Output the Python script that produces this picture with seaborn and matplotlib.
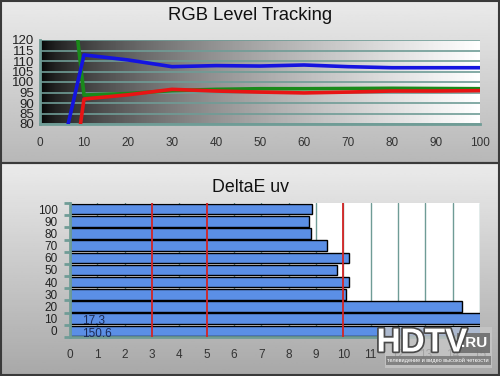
import numpy as np
import pandas as pd
import seaborn as sns
import matplotlib.pyplot as plt
import matplotlib.patheffects as pe
from matplotlib.patches import Rectangle

# RGB level tracking (levels in %)
levels = [0, 10, 20, 30, 40, 50, 60, 70, 80, 90, 100]
red = [-57, 91.9, 93.9, 96.5, 95.7, 95.2, 94.8, 95.2, 95.7, 95.7, 95.9]
green = [280, 93.8, 94.5, 95.9, 96.5, 96.8, 96.8, 96.9, 97.0, 96.9, 96.8]
blue = [21.5, 112.9, 110.5, 107.3, 107.8, 107.6, 108.1, 107.3, 106.8, 106.8, 106.8]

# DeltaE uv per level
de_levels = ['100', '90', '80', '70', '60', '50', '40', '30', '20', '10', '0']
de_values = [8.85, 8.75, 8.8, 9.4, 10.2, 9.75, 10.2, 10.1, 14.35, 17.3, 150.6]
ref_lines = [3, 5, 10]

sns.set_theme(style='white')
plt.rcParams['font.family'] = ['Liberation Sans', 'DejaVu Sans']

teal = '#6f9c96'
W, H = 500, 376

fig = plt.figure(figsize=(5, 3.76), dpi=100)

# panel backgrounds
bg = fig.add_axes([0, 0, 1, 1])
bg.axis('off')
grad_top = np.linspace(0.92, 0.72, 100).reshape(-1, 1)
grad_bot = np.linspace(0.92, 0.66, 100).reshape(-1, 1)
bg.imshow(grad_top, cmap='gray', vmin=0, vmax=1, aspect='auto', extent=(0, W, 163, 0))
bg.imshow(grad_bot, cmap='gray', vmin=0, vmax=1, aspect='auto', extent=(0, W, H, 163))
bg.add_patch(Rectangle((0.8, 0.8), W - 1.6, 162, fill=False, ec='#3a3a3a', lw=1.5))
bg.add_patch(Rectangle((0.8, 163), W - 1.6, H - 163.8, fill=False, ec='#3a3a3a', lw=1.5))
bg.set_xlim(0, W)
bg.set_ylim(H, 0)

fig.text(0.5, 1 - 15 / H, 'RGB Level Tracking', ha='center', va='center', fontsize=13.3, color='#111111')
fig.text(0.5, 1 - 187 / H, 'DeltaE uv', ha='center', va='center', fontsize=12.8, color='#111111')

# top chart
ax1 = fig.add_axes([40 / W, 1 - 124 / H, 440 / W, 84 / H])
ax1.set_facecolor('none')
xg = np.linspace(0, 1, 256) ** 0.6
ax1.imshow(xg.reshape(1, -1), cmap='gray', vmin=0, vmax=1, aspect='auto',
           extent=(0, 100, 80, 120), zorder=0)

df = pd.DataFrame({
    'level': levels * 3,
    'value': green + red + blue,
    'channel': ['G'] * len(levels) + ['R'] * len(levels) + ['B'] * len(levels),
})
sns.lineplot(data=df, x='level', y='value', hue='channel',
             palette={'R': '#e81414', 'G': '#1a8a1a', 'B': '#1414e0'},
             linewidth=2.6, legend=False, ax=ax1, zorder=3)
ax1.set_xlim(0, 100)
ax1.set_ylim(80, 120)
ax1.set_xticks(range(0, 101, 10))
ax1.set_yticks(range(80, 121, 5))
ax1.grid(axis='y', color=teal, lw=1.2, zorder=1)
ax1.grid(axis='x', visible=False)
ax1.set_xlabel('')
ax1.set_ylabel('')
for s in ['top', 'right']:
    ax1.spines[s].set_visible(False)
for s in ['left', 'bottom']:
    ax1.spines[s].set_color(teal)
    ax1.spines[s].set_linewidth(2)
ax1.tick_params(axis='x', direction='inout', length=7, width=2, color=teal,
                labelsize=8.5, labelcolor='#333333', pad=6)
ax1.tick_params(axis='y', direction='inout', length=6, width=2, color=teal,
                labelsize=9.5, labelcolor='#222222', pad=1)

# bottom chart
ax2 = fig.add_axes([70 / W, 1 - 337 / H, 410 / W, 134 / H])
ax2.set_facecolor('white')
df2 = pd.DataFrame({'level': de_levels, 'de': de_values})
sns.barplot(data=df2, x='de', y='level', order=de_levels, color='#5b8fe6',
            saturation=1, edgecolor='black', linewidth=1, width=0.86, ax=ax2, zorder=2)
ax2.set_xlim(0, 15)
ax2.set_ylim(10.5, -0.5)
ax2.set_xticks(range(0, 16))
ax2.grid(axis='x', color=teal, lw=1, zorder=0)
ax2.grid(axis='y', visible=False)
ax2.set_axisbelow(True)
for x in ref_lines:
    ax2.axvline(x, color='#d42424', lw=1.3, zorder=4)
for i, v in enumerate(de_values):
    if v > 15:
        ax2.text(0.45, i + 0.22, f'{v}', ha='left', va='center', fontsize=8.5,
                 color='#1c2a55', zorder=5)
ax2.set_xlabel('')
ax2.set_ylabel('')
for s in ['top', 'right']:
    ax2.spines[s].set_visible(False)
for s in ['left', 'bottom']:
    ax2.spines[s].set_color(teal)
    ax2.spines[s].set_linewidth(2)
ax2.set_yticks(np.arange(-0.5, 11, 1), minor=True)
ax2.tick_params(axis='x', direction='inout', length=6, width=2, color=teal,
                labelsize=8.5, labelcolor='#333333', pad=6)
ax2.tick_params(axis='y', which='major', length=0, labelsize=8.5,
                labelcolor='#222222', pad=9)
ax2.tick_params(axis='y', which='minor', direction='out', length=4, width=2,
                color=teal, left=True)

# watermark logo, on top of everything
ov = fig.add_axes([0, 0, 1, 1])
ov.axis('off')
ov.set_xlim(0, W)
ov.set_ylim(H, 0)
ov.add_patch(Rectangle((385, 327), 107, 41, fc='#c8c8c8', ec='none', alpha=0.75))
ov.add_patch(Rectangle((457, 333), 33, 20, fc='#6e6e6e', ec='none', alpha=0.9))
ov.add_patch(Rectangle((386, 356), 105, 9, fc='#7c7c7c', ec='none', alpha=0.9))
ov.text(422, 343, 'HDTV', ha='center', va='center', fontsize=24, fontweight='bold',
        color='white',
        path_effects=[pe.withStroke(linewidth=2.5, foreground='#4a4a4a')])
ov.text(474, 343, '.RU', ha='center', va='center', fontsize=11, fontweight='bold',
        color='white')
ov.text(438, 360.5, 'телевидение и видео высокой четкости', ha='center', va='center',
        fontsize=4, color='white')

fig.savefig('out.png', dpi=100)
